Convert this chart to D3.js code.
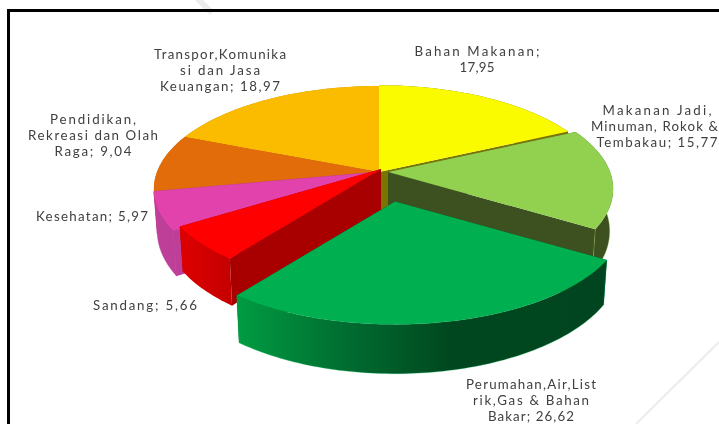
<!DOCTYPE html>
<html>
<head>
<meta charset="utf-8">
<script src="https://cdn.jsdelivr.net/npm/d3@7/dist/d3.min.js"></script>
<style>
html,body{margin:0;padding:0;background:#fff;overflow:hidden}
svg{display:block}
text{font-family:"Lato","Open Sans",sans-serif;font-size:13.3px;fill:#404040;text-anchor:middle;filter:blur(.3px)}
</style>
</head>
<body>
<script>
// Data
const categories = ["Bahan Makanan","Makanan Jadi, Minuman, Rokok & Tembakau","Perumahan,Air,Listrik,Gas & Bahan Bakar","Sandang","Kesehatan","Pendidikan, Rekreasi dan Olah Raga","Transpor,Komunikasi dan Jasa Keuangan"];
const values = [17.95,15.77,26.62,5.66,5.97,9.04,18.97];
const labelLines = [
  ["Bahan Makanan;","17,95"],
  ["Makanan Jadi,","Minuman, Rokok &","Tembakau; 15,77"],
  ["Perumahan,Air,List","rik,Gas & Bahan","Bakar; 26,62"],
  ["Sandang; 5,66"],
  ["Kesehatan; 5,97"],
  ["Pendidikan,","Rekreasi dan Olah","Raga; 9,04"],
  ["Transpor,Komunika","si dan Jasa","Keuangan; 18,97"]
];

// Styles / layout
const W=719,H=424;
const topColors=["#FBFB00","#92D050","#00B050","#FF0000","#E242AC","#E36C0A","#FBBC00"];
const sideColors=["#7A7400","#3D5120","#00451F","#A80000","#BE3F98","#D06A10","#B88A00"];
const wallStops=[
  null,null,
  [[0,"#009C42"],[.3,"#006C30"],[.58,"#00471F"],[1,"#00451F"]],
  [[0,"#DE0000"],[1,"#C40000"]],
  null,null,null];
const wallEdge=[null,"#92D050","#00B050",null,"#BE3F98",null,null];
const centerBase=[379,172];
const sliceOffset=[[0,0],[9,0],[16,29.5],[2,-3],[0,0],[0,0],[0,0]];
const sliceScale=[1.01,1,1.02,.98,1,1,1];
const labelAnchor=[[477,56],[657,115],[531,389],[145,310],[92,221],[93,124],[220,59]];
const lineWidths=[[125,35],[109,127,121],[130,116,86],[104],[112],[86,130,77],[132,80,120]];
const lineCenterShift=[[0,0],[0,-2.5,0],[0,0,0],[0],[0],[0,0,0],[0,0,0]];
const paintOrder=[6,0,5,4,1,3,2];
const persp=.165,scaleX=222,scaleY=100.2,depth=41,bottomShrink=.985,lineH=16;

const svg=d3.select("body").append("svg").attr("width",W).attr("height",H);
const defs=svg.append("defs");

// decorative faint diagonals behind the frame
svg.append("path").attr("d",d3.line()([[197,-2],[212,13]])).attr("stroke","#ececec").attr("stroke-width",6).attr("fill","none");
svg.append("path").attr("d",d3.line()([[636,424],[719,342]])).attr("stroke","#ececec").attr("stroke-width",2).attr("fill","none");
svg.append("path").attr("d",d3.line()([[8.5,424],[8.5,10.5],[719,10.5]])).attr("stroke","#000").attr("stroke-width",3).attr("fill","none");

const pie=d3.pie().sort(null).value(d=>d);
const arcs=pie(values);

// projection: angle on the unit circle (radius r) → screen point
function project(a,r,lower,o,s){
  const X=Math.sin(a)*r*s,Y=Math.cos(a)*r*s,den=1+Y*persp;
  const sx=scaleX*X/den*(lower?bottomShrink:1);
  const sy=-scaleY*Y/den+(lower?depth/den:0);
  return [centerBase[0]+o[0]+sx,centerBase[1]+o[1]+sy];
}
const line=d3.line();
function rimAngles(a0,a1){
  const n=Math.max(2,Math.ceil((a1-a0)/0.02));
  return d3.range(n+1).map(i=>a0+(a1-a0)*i/n);
}

const g=svg.append("g");
paintOrder.forEach(i=>{
  const d=arcs[i],o=sliceOffset[i],s=sliceScale[i];
  const rim=rimAngles(d.startAngle,d.endAngle);
  const topRim=rim.map(a=>project(a,1,false,o,s));
  const botRim=rim.map(a=>project(a,1,true,o,s));
  const apexT=project(0,0,false,o,s),apexB=project(0,0,true,o,s);
  const side=(pt,pb)=>line([apexT,pt,pb,apexB])+"Z";

  // side walls
  [[topRim[0],botRim[0]],[topRim[topRim.length-1],botRim[botRim.length-1]]].forEach(p=>{
    const w=g.append("path").attr("d",side(p[0],p[1])).attr("fill",sideColors[i]);
    if(wallEdge[i]===sideColors[i]) w.attr("stroke",sideColors[i]).attr("stroke-width",.8);
  });

  // outer wall
  let fill=sideColors[i];
  if(wallStops[i]){
    const ext=d3.extent(topRim.concat(botRim),p=>p[0]);
    const id="wall"+i;
    const grad=defs.append("linearGradient").attr("id",id).attr("gradientUnits","userSpaceOnUse")
      .attr("x1",ext[0]).attr("x2",ext[1]).attr("y1",0).attr("y2",0);
    wallStops[i].forEach(st=>grad.append("stop").attr("offset",st[0]).attr("stop-color",st[1]));
    fill="url(#"+id+")";
  }
  const wall=g.append("path").attr("d",line(topRim.concat(botRim.slice().reverse()))+"Z").attr("fill",fill);
  if(wallEdge[i]) wall.attr("stroke",wallEdge[i]).attr("stroke-width",.5).attr("stroke-opacity",wallEdge[i]===sideColors[i]?1:.6);

  // top face
  g.append("path").attr("d",line([apexT].concat(topRim))+"Z").attr("fill",topColors[i]);
});

// labels
const tg=svg.append("g");
labelLines.forEach((lines,i)=>{
  const t=tg.append("text");
  lines.forEach((l,k)=>{
    t.append("tspan")
      .attr("x",labelAnchor[i][0]+lineCenterShift[i][k])
      .attr("y",labelAnchor[i][1]+k*lineH)
      .attr("textLength",lineWidths[i][k])
      .attr("lengthAdjust","spacing")
      .text(l);
  });
});
</script>
</body>
</html>
